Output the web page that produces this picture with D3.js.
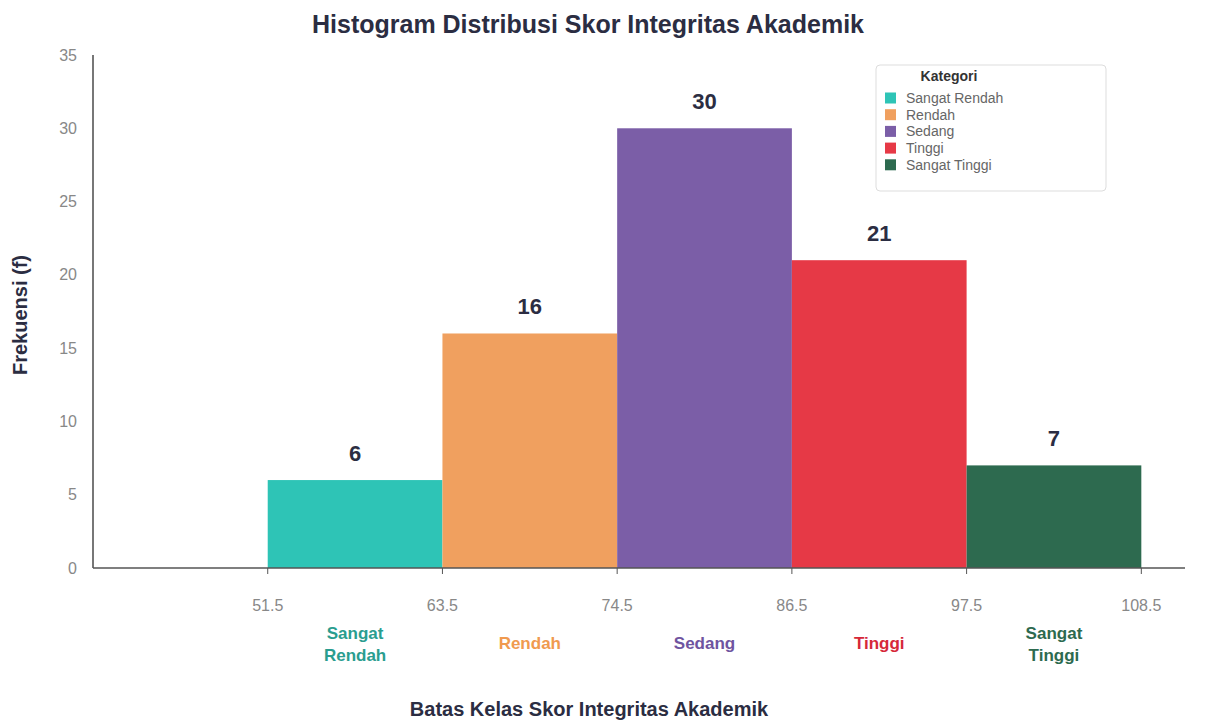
<!DOCTYPE html>
<html>
<head>
<meta charset="utf-8">
<script src="https://cdn.jsdelivr.net/npm/d3@7"></script>
<style>
  body { margin: 0; background: #fff; }
  svg { font-family: "Liberation Sans", Arial, sans-serif; }
</style>
</head>
<body>
<div id="chart"></div>
<script>
// data
const boundaries = ["51.5", "63.5", "74.5", "86.5", "97.5", "108.5"];
const categories = ["Sangat Rendah", "Rendah", "Sedang", "Tinggi", "Sangat Tinggi"];
const frequencies = [6, 16, 30, 21, 7];
const yTicks = [0, 5, 10, 15, 20, 25, 30, 35];
const barColors = ["#2ec4b6", "#f0a05f", "#7b5ea7", "#e63946", "#2d6a4f"];
const labelColors = ["#2a9d8f", "#f09a4f", "#6f54a0", "#d62839", "#2d6a4f"];

let width = 1214, height = 721;

let svg = d3.select("#chart").append("svg")
  .attr("width", width)
  .attr("height", height);

// scales - bins are equal width, boundary index on x
const x = d3.scaleLinear().domain([-1, 5.25]).range([93, 1185]);
const y = d3.scaleLinear().domain([0, 35]).range([568, 55]);

// bars
svg.selectAll(".bar")
  .data(frequencies)
  .join("rect")
  .attr("class", "bar")
  .attr("x", (d, i) => x(i))
  .attr("y", d => y(d))
  .attr("width", (d, i) => x(i + 1) - x(i))
  .attr("height", d => y(0) - y(d))
  .attr("fill", (d, i) => barColors[i]);

// value labels
svg.selectAll(".val")
  .data(frequencies)
  .join("text")
  .attr("class", "val")
  .attr("x", (d, i) => (x(i) + x(i + 1)) / 2)
  .attr("y", d => y(d) - 19)
  .attr("text-anchor", "middle")
  .attr("font-size", "22px")
  .attr("font-weight", "bold")
  .attr("fill", "#2b2d42")
  .text(d => d);

// y axis
svg.append("line")
  .attr("x1", x(-1)).attr("x2", x(-1))
  .attr("y1", y(35)).attr("y2", y(0))
  .attr("stroke", "#777").attr("stroke-width", 2);

svg.selectAll(".ytick")
  .data(yTicks)
  .join("text")
  .attr("class", "ytick")
  .attr("x", 77)
  .attr("y", d => y(d))
  .attr("dy", "0.35em")
  .attr("text-anchor", "end")
  .attr("font-size", "16px")
  .attr("fill", "#888")
  .text(d => d);

// x axis
svg.append("line")
  .attr("x1", x(-1)).attr("x2", x(5.25))
  .attr("y1", y(0)).attr("y2", y(0))
  .attr("stroke", "#555").attr("stroke-width", 1.5);

svg.selectAll(".xtickmark")
  .data(boundaries)
  .join("line")
  .attr("class", "xtickmark")
  .attr("x1", (d, i) => x(i)).attr("x2", (d, i) => x(i))
  .attr("y1", y(0)).attr("y2", y(0) + 6)
  .attr("stroke", "#555").attr("stroke-width", 1);

svg.selectAll(".xtick")
  .data(boundaries)
  .join("text")
  .attr("class", "xtick")
  .attr("x", (d, i) => x(i))
  .attr("y", 605)
  .attr("dy", "0.35em")
  .attr("text-anchor", "middle")
  .attr("font-size", "16px")
  .attr("fill", "#888")
  .text(d => d);

// category labels under bars
svg.selectAll(".cat")
  .data(categories)
  .join("text")
  .attr("class", "cat")
  .attr("x", (d, i) => (x(i) + x(i + 1)) / 2)
  .attr("text-anchor", "middle")
  .attr("font-size", "17px")
  .attr("font-weight", "bold")
  .attr("fill", (d, i) => labelColors[i])
  .each(function (d) {
    const words = d.split(" ");
    const t = d3.select(this);
    const cx = t.attr("x");
    if (words.length == 1) {
      t.append("tspan").attr("x", cx).attr("y", 649).text(d);
    } else {
      t.append("tspan").attr("x", cx).attr("y", 639).text(words[0]);
      t.append("tspan").attr("x", cx).attr("y", 661).text(words[1]);
    }
  });

// titles
svg.append("text")
  .attr("x", 588).attr("y", 33)
  .attr("text-anchor", "middle")
  .attr("font-size", "25px")
  .attr("font-weight", "bold")
  .attr("fill", "#2b2d42")
  .text("Histogram Distribusi Skor Integritas Akademik");

svg.append("text")
  .attr("x", 589).attr("y", 716)
  .attr("text-anchor", "middle")
  .attr("font-size", "20px")
  .attr("font-weight", "bold")
  .attr("fill", "#2b2d42")
  .text("Batas Kelas Skor Integritas Akademik");

svg.append("text")
  .attr("transform", "translate(27,315) rotate(-90)")
  .attr("text-anchor", "middle")
  .attr("font-size", "20px")
  .attr("font-weight", "bold")
  .attr("fill", "#2b2d42")
  .text("Frekuensi (f)");

// legend
let legend = svg.append("g").attr("transform", "translate(876,65)");
legend.append("rect")
  .attr("width", 230).attr("height", 126)
  .attr("rx", 4)
  .attr("fill", "#fff")
  .attr("stroke", "#ddd");
legend.append("text")
  .attr("x", 73).attr("y", 16)
  .attr("text-anchor", "middle")
  .attr("font-size", "14px")
  .attr("font-weight", "bold")
  .attr("fill", "#333")
  .text("Kategori");

let items = legend.selectAll(".item")
  .data(categories)
  .join("g")
  .attr("class", "item")
  .attr("transform", (d, i) => `translate(0,${33 + i * 16.7})`);
items.append("rect")
  .attr("x", 9).attr("y", -5.5)
  .attr("width", 11).attr("height", 11)
  .attr("fill", (d, i) => barColors[i]);
items.append("text")
  .attr("x", 30).attr("y", 0)
  .attr("dy", "0.35em")
  .attr("font-size", "14px")
  .attr("fill", "#666")
  .text(d => d);
</script>
</body>
</html>
